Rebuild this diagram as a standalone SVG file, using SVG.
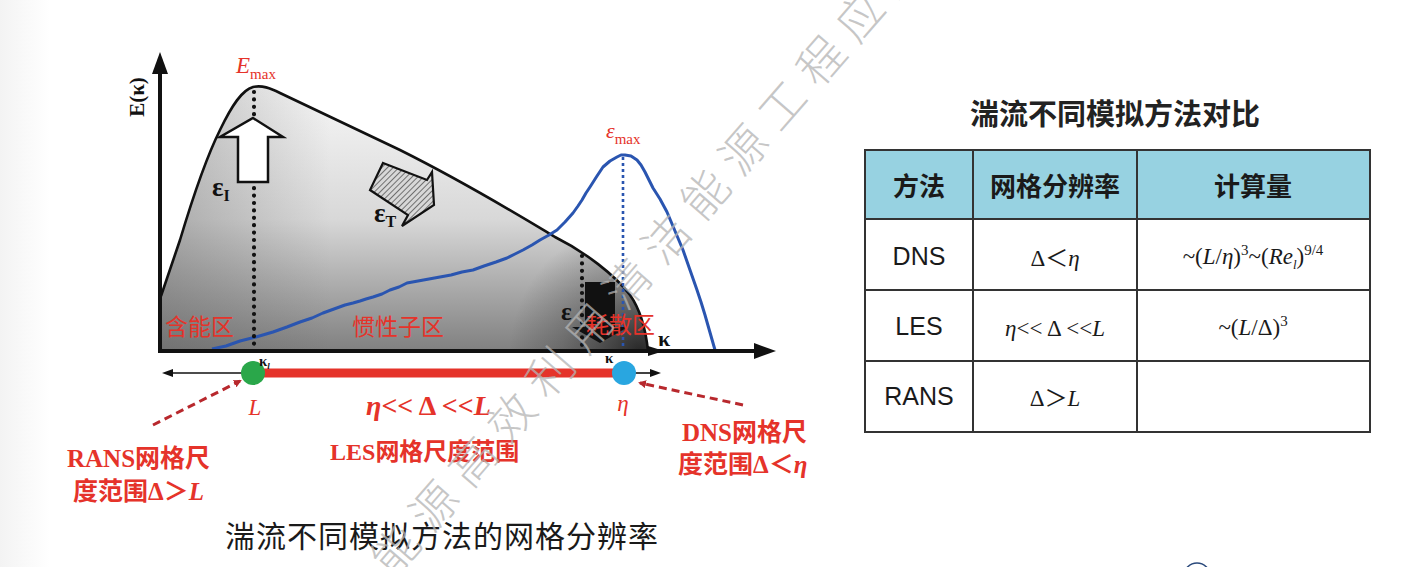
<svg xmlns="http://www.w3.org/2000/svg" width="1419" height="567" viewBox="0 0 1419 567">
  <defs>
    <style>
      .red { fill: #e5332a; }
      .cjk { font-family: "Noto Sans CJK SC", "Noto Sans", sans-serif; }
      .serif { font-family: "Liberation Serif", "Noto Sans CJK SC", serif; }
      .sans { font-family: "Liberation Sans", Arial, sans-serif; }
      .bold { font-weight: 700; }
      .it { font-style: italic; }
      .axis { stroke: #111; stroke-width: 4; fill: none; }
      .thin { stroke: #111; stroke-width: 1.6; fill: none; }
      .dots { stroke: #111; stroke-width: 4.2; stroke-linecap: round; stroke-dasharray: 0 7.4; fill: none; }
      .cell { fill: none; stroke: #333; stroke-width: 2; }
      .dash { stroke: #b8282d; stroke-width: 3; stroke-dasharray: 8 5; fill: none; }
      .head { fill: #111; }
      .cellt { font-size: 25px; fill: #1a1a1a; }
      .math { font-size: 23px; fill: #1a1a1a; }
    </style>
    <linearGradient id="leftShade" x1="0" y1="0" x2="1" y2="0">
      <stop offset="0" stop-color="#f3f3f3"/>
      <stop offset="1" stop-color="#ffffff"/>
    </linearGradient>
    <linearGradient id="specV" x1="0" y1="87" x2="0" y2="351" gradientUnits="userSpaceOnUse">
      <stop offset="0" stop-color="#f7f7f7"/>
      <stop offset="0.5" stop-color="#d8d8d8"/>
      <stop offset="1" stop-color="#808080"/>
    </linearGradient>
    <radialGradient id="dissShade" cx="640" cy="352" r="130" gradientUnits="userSpaceOnUse">
      <stop offset="0" stop-color="#111" stop-opacity="0.8"/>
      <stop offset="0.6" stop-color="#333" stop-opacity="0.3"/>
      <stop offset="1" stop-color="#333" stop-opacity="0"/>
    </radialGradient>
    <linearGradient id="leftDark" x1="160" y1="0" x2="330" y2="0" gradientUnits="userSpaceOnUse">
      <stop offset="0" stop-color="#555" stop-opacity="0.35"/>
      <stop offset="1" stop-color="#555" stop-opacity="0"/>
    </linearGradient>
    <pattern id="hatch" width="4" height="4" patternUnits="userSpaceOnUse" patternTransform="rotate(45)">
      <rect width="4" height="4" fill="#d8d8d8"/>
      <line x1="0" y1="0" x2="0" y2="4" stroke="#555" stroke-width="1.6"/>
    </pattern>
    <marker id="arrDash" markerWidth="8" markerHeight="8" refX="6" refY="4" orient="auto" markerUnits="userSpaceOnUse">
      <path d="M0,0 L8,4 L0,8 Z" fill="#b8282d"/>
    </marker>
  </defs>

  <rect width="1419" height="567" fill="#ffffff"/>
  <rect width="50" height="567" fill="url(#leftShade)"/>

  <!-- energy spectrum chart -->
  <g id="spectrum">
    <path id="spec-area" d="M161,296 L180,240 C192,200 205,160 220,130 C232,105 242,90 253,87 C262,85 270,88 280,93 L400,150 C470,185 530,222 555,237 C585,252 615,275 630,295 C642,312 646,332 648,351 L161,351 Z" fill="url(#specV)"/>
    <path d="M161,296 L180,240 C192,200 205,160 220,130 C232,105 242,90 253,87 C262,85 270,88 280,93 L400,150 C470,185 530,222 555,237 C585,252 615,275 630,295 C642,312 646,332 648,351 L161,351 Z" fill="url(#leftDark)"/>
    <path d="M161,296 L180,240 C192,200 205,160 220,130 C232,105 242,90 253,87 C262,85 270,88 280,93 L400,150 C470,185 530,222 555,237 C585,252 615,275 630,295 C642,312 646,332 648,351 L161,351 Z" fill="url(#dissShade)"/>
    <path id="spec-curve" d="M161,296 L180,240 C192,200 205,160 220,130 C232,105 242,90 253,87 C262,85 270,88 280,93 L400,150 C470,185 530,222 555,237 C585,252 615,275 630,295 C642,312 646,332 648,351" fill="none" stroke="#111" stroke-width="2.6"/>
  </g>

  <!-- dissipation spectrum -->
  <g id="dissipation-curve">
    <polyline points="212,349 226,346 240,341 256,337 273,332 287,327 300,322 312,318 323,313 334,309 345,305 353,303 360,301 366,299 373,297 382,294 390,290 399,287 407,283 418,281 429,279 440,277 451,275 462,272 473,270 484,266 496,262 507,258 515,254 523,250 532,245 540,240 549,235 557,230 565,222 573,213 578,206 582,200 586,193 590,187 597,176 603,167 610,161 617,157 621,155 625,155 631,156 637,160 641,165 645,172 649,180 653,188 660,199 667,212 675,231 683,250 690,270 697,290 701,302 705,315 709,329 713,343 715,350" fill="none" stroke="#2a55b0" stroke-width="3" stroke-linejoin="round"/>
    <line x1="623" y1="157" x2="623" y2="349" stroke="#2a55b0" stroke-width="2.6" stroke-dasharray="3 3"/>
  </g>

  <!-- dotted markers -->
  <g id="markers">
    <line class="dots" x1="254" y1="92" x2="254" y2="348"/>
    <line class="dots" x1="582" y1="256" x2="582" y2="348"/>
  </g>

  <!-- energy injection arrow -->
  <g id="arrow-injection">
    <polygon points="253,118 283,137 268,137 268,182 238,182 238,137 220,137" fill="#ffffff" stroke="#111" stroke-width="2.5" stroke-linejoin="miter"/>
    <text class="serif bold" x="212" y="196" font-size="27" fill="#111">ε<tspan font-size="16" dy="5">I</tspan></text>
  </g>

  <!-- energy transfer arrow -->
  <g id="arrow-transfer">
    <polygon points="383,163 427,180 432,172 434,205 402,226 408,215 370,190" fill="url(#hatch)" stroke="#111" stroke-width="2.2" stroke-linejoin="miter"/>
    <text class="serif bold" x="374" y="222" font-size="27" fill="#111">ε<tspan font-size="16" dy="5">T</tspan></text>
  </g>

  <!-- dissipation arrow -->
  <g id="arrow-dissipation">
    <polygon points="585,282 615,282 615,327 628,327 600,343 572,327 585,327" fill="#111"/>
    <text class="serif bold" x="561" y="320" font-size="25" fill="#111">ε</text>
  </g>

  <!-- axes -->
  <g id="axes">
    <line class="axis" x1="160" y1="70" x2="160" y2="353"/>
    <path class="head" d="M160,52 L168,74 L152,74 Z"/>
    <line class="axis" x1="158" y1="351" x2="758" y2="351"/>
    <path class="head" d="M776,351 L754,343 L754,359 Z"/>
    <path class="head" d="M664,351 L648,346 L648,356 Z"/>
    <text class="serif bold" transform="translate(144,97) rotate(-90)" text-anchor="middle" font-size="21" fill="#111">E(κ)</text>
    <text class="serif bold" x="658" y="346" font-size="22" fill="#111">κ</text>
  </g>

  <!-- peak labels -->
  <g id="peak-labels">
    <text class="serif it" x="236" y="73" font-size="23" fill="#e5332a">E<tspan font-size="15" font-style="normal" dy="6">max</tspan></text>
    <text class="serif it" x="606" y="138" font-size="22" fill="#e5332a">ε<tspan font-size="15" font-style="normal" dy="6">max</tspan></text>
  </g>

  <!-- range labels inside spectrum -->
  <g id="range-labels" class="cjk" font-size="23">
    <text class="red" x="165" y="335">含能区</text>
    <text class="red" x="352" y="335">惯性子区</text>
    <text class="red" x="586" y="333">耗散区</text>
  </g>

  <!-- scale bar -->
  <g id="scale-bar">
    <line class="thin" x1="242" y1="373" x2="170" y2="373"/>
    <path class="head" d="M162,373 L173,369 L173,377 Z"/>
    <line class="thin" x1="634" y1="373" x2="652" y2="373"/>
    <path class="head" d="M661,373 L650,369 L650,377 Z"/>
    <line x1="262" y1="373" x2="614" y2="373" stroke="#e5332a" stroke-width="9"/>
    <circle cx="253" cy="373" r="12" fill="#2aa74a"/>
    <circle cx="624" cy="373" r="12" fill="#29a6e0"/>
    <text class="serif bold" x="259" y="366" font-size="15" fill="#111">κ<tspan font-size="9" font-style="italic" dy="3">l</tspan></text>
    <text class="serif bold" x="605" y="363" font-size="15" fill="#111">κ</text>
    <text class="serif it red" x="255" y="415" font-size="23" text-anchor="middle">L</text>
    <text class="serif it red" x="623" y="411" font-size="23" text-anchor="middle">η</text>
    <text class="serif bold red" x="366" y="415" font-size="28"><tspan font-style="italic">η</tspan>&lt;&lt; Δ &lt;&lt;<tspan font-style="italic">L</tspan></text>
    <text class="bold red" x="330" y="460" font-size="24"><tspan class="serif">LES</tspan><tspan class="cjk">网格尺度范围</tspan></text>
  </g>

  <!-- callouts -->
  <g id="connectors">
    <line class="dash" x1="153" y1="425" x2="240" y2="381" marker-end="url(#arrDash)"/>
    <line class="dash" x1="743" y1="405" x2="640" y2="383" marker-end="url(#arrDash)"/>
  </g>
  <g id="rans-label" class="bold red" font-size="25">
    <text x="67" y="467"><tspan class="serif">RANS</tspan><tspan class="cjk">网格尺</tspan></text>
    <text x="73" y="500"><tspan class="cjk">度范围</tspan><tspan class="serif">Δ＞</tspan><tspan class="serif" font-style="italic">L</tspan></text>
  </g>
  <g id="dns-label" class="bold red" font-size="25">
    <text x="682" y="441"><tspan class="serif">DNS</tspan><tspan class="cjk">网格尺</tspan></text>
    <text x="678" y="473"><tspan class="cjk">度范围</tspan><tspan class="serif">Δ＜</tspan><tspan class="serif" font-style="italic">η</tspan></text>
  </g>

  <text id="caption" class="cjk" x="225" y="547" font-size="30" letter-spacing="1" fill="#1a1a1a">湍流不同模拟方法的网格分辨率</text>

  <!-- comparison table -->
  <g id="table">
    <text class="cjk" x="1115" y="125" font-size="29" font-weight="700" text-anchor="middle" fill="#222">湍流不同模拟方法对比</text>
    <rect x="865" y="150" width="505" height="69" fill="#97d2e1"/>
    <rect class="cell" x="865" y="150" width="505" height="282"/>
    <line class="cell" x1="865" y1="219" x2="1370" y2="219"/>
    <line class="cell" x1="865" y1="290" x2="1370" y2="290"/>
    <line class="cell" x1="865" y1="361" x2="1370" y2="361"/>
    <line class="cell" x1="973" y1="150" x2="973" y2="432"/>
    <line class="cell" x1="1137" y1="150" x2="1137" y2="432"/>
    <g class="cjk" font-size="26" font-weight="700" fill="#1a1a1a" text-anchor="middle">
      <text x="919" y="196">方法</text>
      <text x="1055" y="196">网格分辨率</text>
      <text x="1253" y="196">计算量</text>
    </g>
    <g class="sans cellt" text-anchor="middle">
      <text x="919" y="265">DNS</text>
      <text x="919" y="335">LES</text>
      <text x="919" y="405">RANS</text>
    </g>
    <g class="serif math" text-anchor="middle">
      <text x="1055" y="266">Δ＜<tspan font-style="italic">η</tspan></text>
      <text x="1055" y="336"><tspan font-style="italic">η</tspan>&lt;&lt; Δ &lt;&lt;<tspan font-style="italic">L</tspan></text>
      <text x="1055" y="406">Δ＞<tspan font-style="italic">L</tspan></text>
      <text x="1253" y="264">~(<tspan font-style="italic">L</tspan>/<tspan font-style="italic">η</tspan>)<tspan font-size="15" dy="-9">3</tspan><tspan dy="9">~(</tspan><tspan font-style="italic">Re</tspan><tspan font-size="13" font-style="italic" dy="5">l</tspan><tspan dy="-5">)</tspan><tspan font-size="15" dy="-9">9/4</tspan></text>
      <text x="1253" y="335">~(<tspan font-style="italic">L</tspan>/Δ)<tspan font-size="15" dy="-9">3</tspan></text>
    </g>
  </g>

  <!-- footer emblem, cropped at the lower edge -->
  <circle cx="1197" cy="576" r="13" fill="none" stroke="#2b4a7c" stroke-width="1.5"/>

  <!-- diagonal watermark -->
  <text class="cjk" transform="translate(393,579) rotate(-49)" font-size="46" font-weight="300" letter-spacing="13" fill="#b4b4b4" fill-opacity="0.75">能源高效利用清洁能源工程应用</text>
</svg>
